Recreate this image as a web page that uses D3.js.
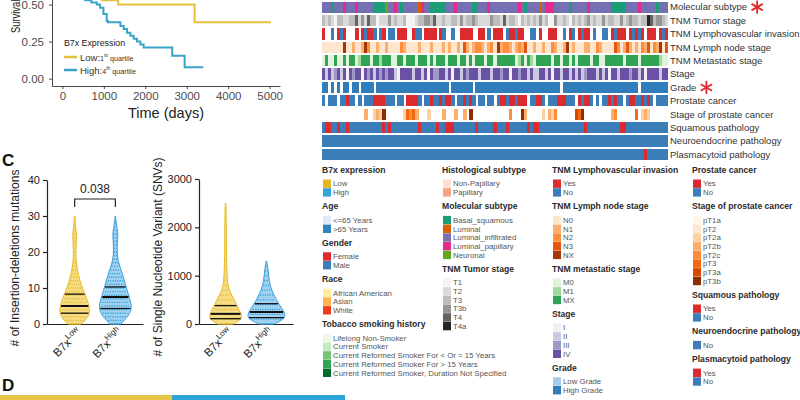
<!DOCTYPE html>
<html>
<head>
<meta charset="utf-8">
<script src="https://cdn.jsdelivr.net/npm/d3@7/dist/d3.min.js"></script>
<style>
  body { margin: 0; background: #fff; }
  svg { display: block; font-family: "Liberation Sans", Arial, Helvetica, sans-serif; }
</style>
</head>
<body>
<svg id="fig" width="800" height="400"></svg>
<script>
// ---- survival (B, bottom part only) ----
const lowTime = [0, 400, 800, 950, 1345, 3190, 5030];
const lowSurv = [1, 0.85, 0.65, 0.53, 0.50, 0.38, 0.38];
const highTime = [0, 300, 550, 700, 830, 910, 990, 1070, 1100, 1400, 1480, 1560, 1640, 1720, 1800, 1880, 1960, 2650, 2950, 3400];
const highSurv = [1, 0.8, 0.53, 0.515, 0.5, 0.478, 0.437, 0.39, 0.38, 0.355, 0.335, 0.31, 0.29, 0.27, 0.25, 0.23, 0.21, 0.155, 0.077, 0.077];
const survTicksX = [0, 1000, 2000, 3000, 4000, 5000];
const survTicksY = [0, 0.25, 0.5];
const survGroups = ["Low", "High"];
const survQuart = ["1", "4"];
const survSup = ["st", "th"];

// ---- violins (C) ----
const groups = ["Low", "High"];
const indelLevels = [0,1,2,3,4,5,6,7,8,9,10,11,12,13,14,15,16,17,18,19,20,21,22,23,24,25,26,27,28,29,30];
const indelLow  = [0.42,0.66,0.83,0.91,0.94,0.9,0.83,0.75,0.68,0.58,0.49,0.41,0.34,0.28,0.22,0.18,0.14,0.11,0.09,0.08,0.08,0.09,0.1,0.1,0.11,0.12,0.09,0.06,0.04,0.03,0.02];
const indelHigh = [0.35,0.55,0.75,0.9,0.98,1.0,0.96,0.9,0.83,0.76,0.7,0.63,0.57,0.5,0.43,0.36,0.28,0.21,0.16,0.13,0.12,0.12,0.12,0.13,0.15,0.16,0.13,0.09,0.06,0.03,0.01];
const indelQuart = [[3, 5, 8.3], [4.3, 7.5, 10.3]];
const indelTicks = [0, 10, 20, 30, 40];
const indelP = "0.038";

const snvLevels = [0,100,200,300,400,500,600,700,800,900,1000,1100,1200,1300,1400,1500,1600,1700,1800,1900,2000,2100,2200,2300,2400,2500];
const snvLow  = [0.42,0.85,0.84,0.7,0.58,0.45,0.32,0.2,0.13,0.1,0.08,0.07,0.06,0.06,0.05,0.05,0.05,0.05,0.04,0.04,0.04,0.04,0.03,0.03,0.03,0.01];
const snvHigh = [0.38,0.95,1.0,0.85,0.68,0.52,0.4,0.28,0.2,0.15,0.12,0.09,0.06,0.02];
const snvQuart = [[110, 210, 380], [130, 250, 420]];
const snvTicks = [0, 1000, 2000, 3000];

// ---- oncoprint tracks (115 samples) ----
const trackLabels = ["Molecular subtype", "TNM Tumor stage", "TNM Lymphovascular invasion", "TNM Lymph node stage",
  "TNM Metastatic stage", "Stage", "Grade", "Prostate cancer", "Stage of prostate cancer",
  "Squamous pathology", "Neuroendocrine pathology", "Plasmacytoid pathology"];
const starred = ["Molecular subtype", "Grade"];

const molecularRow = ["IIIBIIIPII","IPIIIIIBBB","BNIIPIBIII","IILPIIBBBB","BIIIPIIIII","BBIIIPIIII","IIIIIPIBII","IILIPPPIII","IIBIIIIIPI","IIIIIIBBBB","BIIIIPIIII","IBIII"].join("");
const tumorRow = ["3232133223","3524253312","2242322311","1233443522","3223324233","4322224332","5233213232","3242311422","3213232342","3224233224","2343323365","34432"].join("");
const lviRow = ["R..B.RBR..",".R.RBRRB.B","R.BB.RRR..","RBB.RRRR.R","B..B..RRRR","..RR.B.RRR",".BRRBRR..B","B.R..RRR..","B.RB.RBRR.","B..BB.RBRR","R.RBRBR.RR","R.RBR"].join("");
const nodeRow = ["0000000400","1001420010","0100002100","0010001000","1010010310","1221012041","2210121300","1001002100","1401000110","0210000320","1310102130","21403"].join("");
const metRow = ["0200200202","2012220221","2220022022","2022202022","2022202202","0222022022","2222012021","0222220220","2202022220","2200222222","0222202222","22100"].join("");
const stageRow = ["4242342414","3441434243","4344214444","2442414334","4241442434","4424442443","4414434424","2244241442","4424242344","4242414424","4434424144","44244"].join("");
const gradeRow = ["HH.H.H.HH.","HH.HHHH.HH","HHHHHHHHHH","HHHHHHHHHH","HH.HHHHHHH",".HHHHHHHHH","HHHHHHHHHH","HHHHHHHHH.","HHHHHHHHHH","HHHHHHHHHH","HHHHH.HHHH","HHHHH"].join("");
const prostateRow = ["B.BBB.BBRB","B.B.BBBRRR","RBBB.BB.RR","RRB.BBRBBR","BRRB.BBRBR","B.BB.BB.BR","RBRRBRRR.B","BRRB.BBBRR","RBBB.RBRRB",".B.BBRBRBB",".BRRBBRBRB",".BBBB"].join("");
const prostateStageRow = ["..........","....d..cdc","h......cfe","fd...c....","d...d..d.h","..........","..e...hd..","...c.dce..","....gfh...","......de..","....f.cdc.","....."].join("");
const squamousRow = ["BRRBBRBBRB","BBBBBBBBBB","RBRBBBBBBB","BBRBBBBBRB","BRRRBBBBBB","BRBBBBBRBB","BRBBBBBBRB","RRBBBBBBBB","BBBBBBBRBB","BBBBBBBBBR","RBBBBBBBBB","BBBBB"].join("");
const neuroRow = ["BBBBBBBBBB","BBBBBBBBBB","BBBBBBBBBB","BBBBBBBBBB","BBBBBBBBBB","BBBBBBBBBB","BBBBBBBBBB","BBBBBBBBBB","BBBBBBBBBB","BBBBBBBBBB","BBBBBBBBBB","BBBBB"].join("");
const plasmaRow = ["BBBBBBBBBB","BBBBBBBBBB","BBBBBBBBBB","BBBBBBBBBB","BBBBBBBBBB","BBBBBBBBBB","BBBBBBBBBB","BBBBBBBBBB","BBBBBBBBBB","BBBBBBBBBB","BBBBBBBRBB","BBBBB"].join("");

// ---- legend levels ----
const b7xLevels = ["Low", "High"];
const ageLevels = ["<=65 Years", ">65 Years"];
const genderLevels = ["Female", "Male"];
const raceLevels = ["African American", "Asian", "White"];
const smokingLevels = ["Lifelong Non-Smoker", "Current Smoker", "Current Reformed Smoker For < Or = 15 Years",
  "Current Reformed Smoker For > 15 Years", "Current Reformed Smoker, Duration Not Specified"];
const histLevels = ["Non-Papillary", "Papillary"];
const molecularLevels = ["Basal_squamous", "Luminal", "Luminal_infiltrated", "Luminal_papillary", "Neuronal"];
const tumorLevels = ["T1", "T2", "T3", "T3b", "T4", "T4a"];
const yesNoLevels = ["Yes", "No"];
const nodeLevels = ["N0", "N1", "N2", "N3", "NX"];
const metLevels = ["M0", "M1", "MX"];
const stageLevels = ["I", "II", "III", "IV"];
const gradeLevels = ["Low Grade", "High Grade"];
const prostateStageLevels = ["pT1a", "pT2", "pT2a", "pT2b", "pT2c", "pT3", "pT3a", "pT3b"];
const noLevels = ["No"];

// colours
const LOW = "#e4c03c", HIGH = "#3aa3c8";
const VLOW = "#e6bb2a", VHIGH = "#3a9fd8";
const yesNoColors = ["#dc2a2e", "#3a7db8"];
const molecularColors = ["#1b9e77", "#d95f02", "#7570b3", "#e7298a", "#66a61e"];
const tumorColors = ["#f4f4f4", "#d9d9d9", "#bdbdbd", "#969696", "#636363", "#252525"];
const nodeColors = ["#fee6ce", "#fdae6b", "#fd8d3c", "#e6550d", "#a63603"];
const metColors = ["#e0f3db", "#a1d99b", "#31a354"];
const stageColors = ["#f2f0f7", "#cbc9e2", "#9e9ac8", "#6a51a3"];
const gradeColors = ["#a6cde6", "#2f7dbb"];
const prostateStageColors = ["#fff5eb", "#fee6ce", "#fdd0a2", "#fdae6b", "#fd8d3c", "#f16913", "#d94801", "#8c2d04"];

const svg = d3.select("#fig");

// ================= survival =================
const km = svg.append("g");
const kx = d3.scaleLinear().domain([-250, 5250]).range([52, 280]);
const ky = d3.scaleLinear().domain([-0.05, 1.05]).range([86, -76.8]);

const kxAxis = km.append("g").attr("transform", "translate(0,86)")
  .call(d3.axisBottom(kx).tickValues(survTicksX).tickFormat(d3.format("d")).tickSize(3).tickPadding(3).tickSizeOuter(0));
const kyAxis = km.append("g").attr("transform", "translate(52,0)")
  .call(d3.axisLeft(ky).tickValues(survTicksY).tickFormat(d3.format(".2f")).tickSize(3).tickPadding(5).tickSizeOuter(0));
[kxAxis, kyAxis].forEach(a => {
  a.attr("font-family", null).attr("font-size", 11.5);
  a.selectAll("path,line").attr("stroke", "#333").attr("stroke-width", 0.9);
  a.selectAll("text").attr("fill", "#4d4d4d");
});

const stepLine = d3.line().x(d => kx(d[0])).y(d => ky(d[1])).curve(d3.curveStepAfter);
km.append("path").datum(d3.zip(lowTime, lowSurv)).attr("d", stepLine)
  .attr("fill", "none").attr("stroke", LOW).attr("stroke-width", 2);
km.append("path").datum(d3.zip(highTime, highSurv)).attr("d", stepLine)
  .attr("fill", "none").attr("stroke", HIGH).attr("stroke-width", 2);

km.append("text").attr("transform", "translate(20,33) scale(1,0.75) rotate(-90)")
  .attr("font-size", 12.5).attr("fill", "#222").text("Survival probability");
km.append("text").attr("x", 166).attr("y", 118).attr("text-anchor", "middle")
  .attr("font-size", 14.5).attr("fill", "#222").text("Time (days)");

//legend
km.append("text").attr("x", 64).attr("y", 46).attr("font-size", 8.8).attr("fill", "#222").text("B7x Expression");
const kl = km.selectAll("g.kl").data(survGroups).join("g").attr("class", "kl")
  .attr("transform", (d, i) => `translate(64,${57 + i * 13})`);
kl.append("line").attr("x1", 0).attr("x2", 13).attr("stroke", (d, i) => i ? HIGH : LOW).attr("stroke-width", 2.5);
const klt = kl.append("text").attr("x", 16).attr("y", 3.5).attr("fill", "#333");
klt.append("tspan").attr("font-size", 9.5).text(d => d + ":");
klt.append("tspan").attr("font-size", 7.2).text((d, i) => survQuart[i]);
klt.append("tspan").attr("font-size", 5).attr("dy", -3.5).text((d, i) => survSup[i]);
klt.append("tspan").attr("font-size", 7.2).attr("dy", 3.5).text(" quartile");

// ================= violins =================
svg.append("text").attr("x", 2).attr("y", 166).attr("font-size", 17).attr("font-weight", "bold").attr("fill", "#111").text("C");
svg.append("text").attr("x", 2).attr("y", 391).attr("font-size", 17).attr("font-weight", "bold").attr("fill", "#111").text("D");

function violinPanel(o) {
  const g = svg.append("g");
  const y = d3.scaleLinear().domain(o.domain).range([324, o.top]);
  const x = d3.scalePoint().domain(groups).range([o.x0, o.x1]).padding(o.pad);
  const w = d3.scaleLinear().domain([0, 1]).range([0, o.maxW]);

  const ya = g.append("g").attr("transform", `translate(${o.x0},0)`)
    .call(d3.axisLeft(y).tickValues(o.ticks).tickFormat(d3.format("d")).tickSize(4).tickPadding(3).tickSizeOuter(0));
  const xa = g.append("g").attr("transform", "translate(0,324)")
    .call(d3.axisBottom(x).tickSize(0).tickFormat("").tickSizeOuter(0));
  [ya, xa].forEach(a => {
    a.attr("font-family", null).attr("font-size", 11);
    a.selectAll("path,line").attr("stroke", "#222").attr("stroke-width", 1.2);
    a.selectAll("text").attr("fill", "#222");
  });
  xa.selectAll(".tick").append("text")
    .attr("transform", "translate(7,9) rotate(-45)")
    .attr("text-anchor", "end").attr("fill", "#222").attr("font-size", 11.5)
    .call(t => {
      t.append("tspan").text("B7x");
      t.append("tspan").attr("font-size", 8).attr("dy", -5).text(d => d);
    });

  g.append("text").attr("transform", `translate(${o.labelX},${o.labelY}) rotate(-90)`)
    .attr("text-anchor", "middle").attr("font-size", 12).attr("fill", "#222").text(o.label);

  groups.forEach((grp, gi) => {
    const dens = o.dens[gi];
    const lv = o.levels.slice(0, dens.length);
    const pts = lv.map((v, i) => ({ v, d: dens[i] }));
    const cx = x(grp);
    const fill = gi ? "#9fd2f0" : "#f6dc85";
    const dark = gi ? VHIGH : VLOW;
    const area = d3.area().curve(d3.curveBasis)
      .y(p => y(p.v)).x0(p => cx - w(p.d)).x1(p => cx + w(p.d));
    g.append("path").datum(pts).attr("d", area)
      .attr("fill", fill).attr("stroke", dark).attr("stroke-width", 1);
    // dotted rows standing for the individual points
    g.selectAll(null).data(pts.filter(p => p.d > 0.05)).join("line")
      .attr("x1", p => cx - w(p.d) * 0.85).attr("x2", p => cx + w(p.d) * 0.85)
      .attr("y1", p => y(p.v)).attr("y2", p => y(p.v))
      .attr("stroke", dark).attr("stroke-width", 1.4).attr("stroke-dasharray", "1.2,1.2");
    const interp = d3.scaleLinear().domain(lv).range(dens);
    g.selectAll(null).data(o.quart[gi]).join("line")
      .attr("x1", q => cx - w(interp(q)) * 0.95).attr("x2", q => cx + w(interp(q)) * 0.95)
      .attr("y1", q => y(q)).attr("y2", q => y(q))
      .attr("stroke", "#111").attr("stroke-width", (q, i) => i === 1 ? 2 : 1.3);
  });
  return { g, x, y };
}

const indel = violinPanel({
  domain: [0, 40], top: 180, x0: 47, x1: 143, pad: 0.68, maxW: 16, ticks: indelTicks,
  levels: indelLevels, dens: [indelLow, indelHigh], quart: indelQuart,
  label: "# of Insertion-deletions mutations", labelX: 19, labelY: 258
});
violinPanel({
  domain: [0, 3000], top: 179, x0: 199, x1: 293, pad: 0.65, maxW: 19, ticks: snvTicks,
  levels: snvLevels, dens: [snvLow, snvHigh], quart: snvQuart,
  label: "# of Single Nucleotide Variant (SNVs)", labelX: 162, labelY: 257
});
// significance bracket
const bx0 = indel.x("Low"), bx1 = indel.x("High");
indel.g.append("path").attr("d", `M${bx0},207V199H${bx1}V207`).attr("fill", "none").attr("stroke", "#222").attr("stroke-width", 1.2);
indel.g.append("text").attr("x", (bx0 + bx1) / 2).attr("y", 193).attr("text-anchor", "middle")
  .attr("font-size", 12).attr("fill", "#222").text(indelP);

// bottom strip of panel D
svg.append("rect").attr("x", 0).attr("y", 395).attr("width", 172).attr("height", 5).attr("fill", "#e8c547");
svg.append("rect").attr("x", 172).attr("y", 395).attr("width", 173).attr("height", 5).attr("fill", "#2ea6d9");

// ================= oncoprint =================
const tracks = [
  { row: molecularRow, codes: "BLIPN", colors: molecularColors },
  { row: tumorRow, codes: "123456", colors: tumorColors },
  { row: lviRow, codes: "RB", colors: yesNoColors },
  { row: nodeRow, codes: "01234", colors: nodeColors },
  { row: metRow, codes: "012", colors: metColors },
  { row: stageRow, codes: "1234", colors: stageColors },
  { row: gradeRow, codes: "LH", colors: gradeColors },
  { row: prostateRow, codes: "RB", colors: yesNoColors },
  { row: prostateStageRow, codes: "abcdefgh", colors: prostateStageColors },
  { row: squamousRow, codes: "RB", colors: yesNoColors },
  { row: neuroRow, codes: "RB", colors: yesNoColors },
  { row: plasmaRow, codes: "RB", colors: yesNoColors }
].map((t, i) => ({ ...t, label: trackLabels[i] }));

const nSamples = molecularRow.length;
const hx = d3.scaleBand().domain(d3.range(nSamples)).range([322, 668]);
const hy = d3.scaleBand().domain(trackLabels).range([1.5, 160]).paddingInner(0.16);

const cells = tracks.flatMap(t => Array.from(t.row).map((c, i) => ({ t, i, c })))
  .filter(d => d.c !== ".");
const hm = svg.append("g").attr("shape-rendering", "crispEdges");
hm.selectAll("rect").data(cells).join("rect")
  .attr("x", d => hx(d.i)).attr("width", hx.bandwidth() + 0.4)
  .attr("y", d => hy(d.t.label)).attr("height", hy.bandwidth())
  .attr("fill", d => d.t.colors[d.t.codes.indexOf(d.c)]);

const hl = svg.append("g");
const labels = hl.selectAll("text").data(trackLabels).join("text")
  .attr("x", 670).attr("y", d => hy(d) + hy.bandwidth() / 2).attr("dy", "0.35em")
  .attr("font-size", 9.5).attr("fill", "#333").text(d => d);
labels.filter(d => starred.includes(d)).each(function (d) {
  const cx = 670 + this.getComputedTextLength() + 10;
  const cy = hy(d) + hy.bandwidth() / 2;
  [90, 30, -30].forEach(a => {
    const r = 6.5, rad = a * Math.PI / 180;
    hl.append("line")
      .attr("x1", cx - r * Math.cos(rad)).attr("y1", cy - r * Math.sin(rad))
      .attr("x2", cx + r * Math.cos(rad)).attr("y2", cy + r * Math.sin(rad))
      .attr("stroke", "#e3262b").attr("stroke-width", 1.8);
  });
});

// ================= legend =================
const legendCols = [
  { x: 322, groups: [
    { title: "B7x expression", levels: b7xLevels, colors: ["#e6b622", "#34a4dc"] },
    { title: "Age", levels: ageLevels, colors: ["#deebf7", "#3182bd"] },
    { title: "Gender", levels: genderLevels, colors: yesNoColors },
    { title: "Race", levels: raceLevels, colors: ["#ffeda0", "#feb24c", "#f03b20"] },
    { title: "Tobacco smoking history", levels: smokingLevels, colors: ["#edf8e9", "#c7e9c0", "#74c476", "#31a354", "#006d2c"] }
  ]},
  { x: 442, groups: [
    { title: "Histological subtype", levels: histLevels, colors: ["#fde0d2", "#f4a582"] },
    { title: "Molecular subtype", levels: molecularLevels, colors: molecularColors },
    { title: "TNM Tumor stage", levels: tumorLevels, colors: tumorColors }
  ]},
  { x: 552, groups: [
    { title: "TNM Lymphovascular invasion", levels: yesNoLevels, colors: yesNoColors },
    { title: "TNM Lymph node stage", levels: nodeLevels, colors: nodeColors },
    { title: "TNM metastatic stage", levels: metLevels, colors: metColors },
    { title: "Stage", levels: stageLevels, colors: stageColors },
    { title: "Grade", levels: gradeLevels, colors: gradeColors }
  ]},
  { x: 692, groups: [
    { title: "Prostate cancer", levels: yesNoLevels, colors: yesNoColors },
    { title: "Stage of prostate cancer", levels: prostateStageLevels, colors: prostateStageColors },
    { title: "Squamous pathology", levels: yesNoLevels, colors: yesNoColors },
    { title: "Neuroendocrine pathology", levels: noLevels, colors: [yesNoColors[1]] },
    { title: "Plasmacytoid pathology", levels: yesNoLevels, colors: yesNoColors }
  ]}
];

const lg = svg.append("g");
legendCols.forEach(col => {
  let y = 170;
  col.groups.forEach(gr => {
    lg.append("text").attr("x", col.x).attr("y", y).attr("dy", "0.35em")
      .attr("font-size", 8.6).attr("font-weight", "bold").attr("fill", "#2a2a2a").text(gr.title);
    y += 13.7;
    const items = lg.append("g").selectAll("g").data(gr.levels).join("g")
      .attr("transform", (d, i) => `translate(${col.x},${y + i * 8.7})`);
    items.append("rect").attr("x", 1).attr("y", -4.2).attr("width", 8).attr("height", 8.4)
      .attr("fill", (d, i) => gr.colors[i]);
    items.append("text").attr("x", 11).attr("dy", "0.35em").attr("font-size", 7.8)
      .attr("fill", "#555").text(d => d);
    y += (gr.levels.length - 1) * 8.7 + 14;
  });
});
</script>
</body>
</html>
